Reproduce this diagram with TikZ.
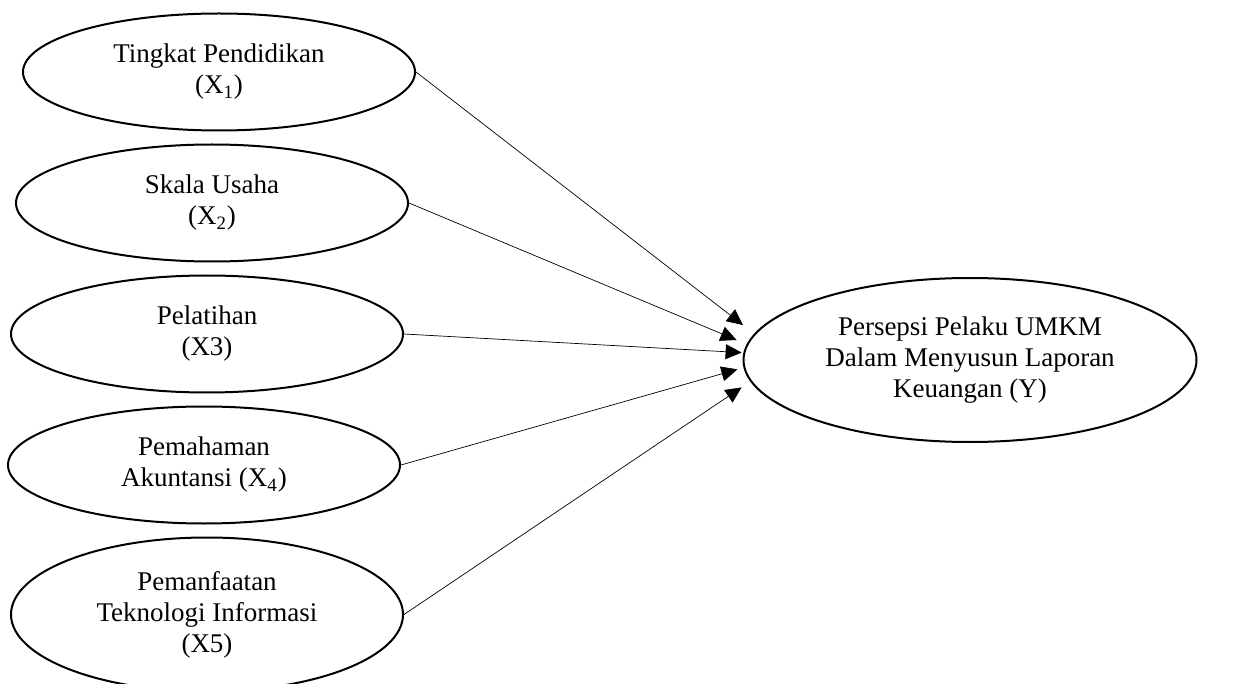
\documentclass[tikz,border=0pt]{standalone}
\usepackage{fontspec}
\setmainfont{Liberation Serif}
\usetikzlibrary{shapes.geometric,arrows.meta,positioning}

\begin{document}
\begin{tikzpicture}[
        node distance=6pt,
        konstruk/.style={ellipse, draw, line width=1pt,
            minimum width=196pt,
            minimum height=58.5pt,
            inner sep=0pt, align=center, font=\fontsize{13.5}{15.5}\selectfont},
        panah/.style={line width=0.35pt, -{Triangle[length=8pt,width=7.5pt]}}
    ]
        \useasboundingbox (0,0) rectangle (618.5pt,-342pt);

        \node[konstruk] (x1) at (109.5pt,-36pt) {Tingkat Pendidikan\\(X\textsubscript{1})};
        \node[konstruk, below=of x1, xshift=-3.5pt] (x2) {Skala Usaha\\(X\textsubscript{2})};
        \node[konstruk, below=of x2, xshift=-2.5pt] (x3) {Pelatihan\\(X3)};
        \node[konstruk, below=of x3, xshift=-1.5pt] (x4) {Pemahaman\\Akuntansi (X\textsubscript{4})};
        \node[konstruk, below=of x4, xshift=1.5pt, minimum height=77pt] (x5) {Pemanfaatan\\Teknologi Informasi\\(X5)};
        \node[konstruk, minimum width=226.5pt, minimum height=82pt] (y) at (485pt,-180pt)
            {Persepsi Pelaku UMKM\\Dalam Menyusun Laporan\\Keuangan (Y)};

        % arrow tips stop short of the Y ellipse
        \coordinate (t1) at (371.5pt,-162.5pt);
        \coordinate (t2) at (368.3pt,-170pt);
        \coordinate (t3) at (370.8pt,-176.3pt);
        \coordinate (t4) at (368.7pt,-184.7pt);
        \coordinate (t5) at (370.8pt,-193.7pt);

        \draw[panah] (x1.east) -- (t1);
        \draw[panah] (x2.east) -- (t2);
        \draw[panah] (x3.east) -- (t3);
        \draw[panah] (x4.east) -- (t4);
        \draw[panah] (x5.east) -- (t5);
    \end{tikzpicture}
\end{document}
